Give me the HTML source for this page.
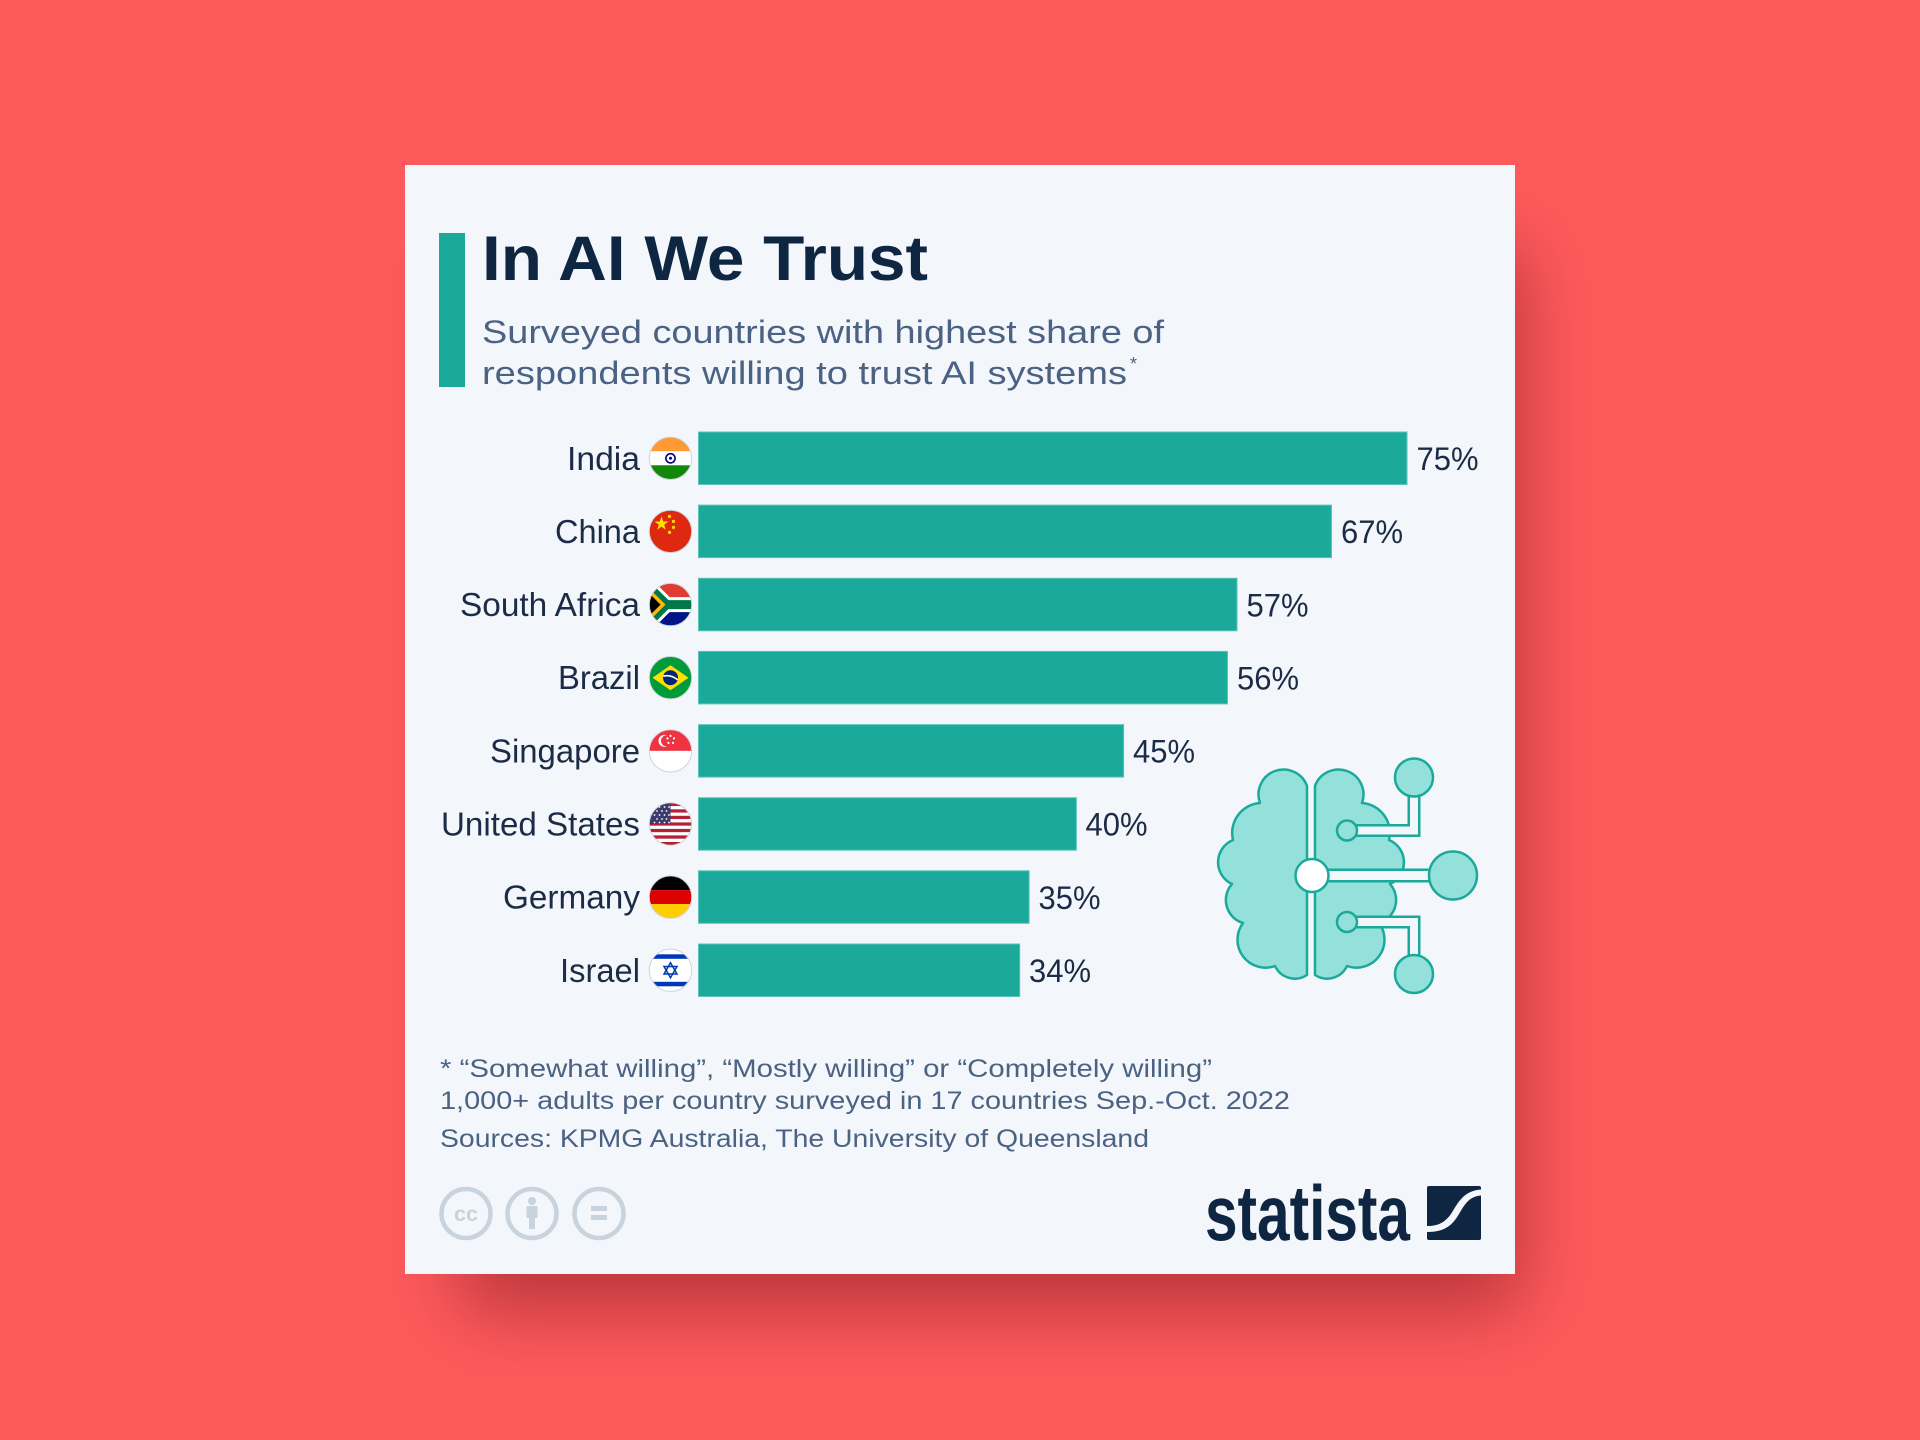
<!DOCTYPE html>
<html>
<head>
<meta charset="utf-8">
<style>
  html, body { margin:0; padding:0; width:1920px; height:1440px; overflow:hidden; background:#fe5a5c; }
  .card { position:absolute; left:405px; top:165px; width:1110px; height:1109px; background:#f3f7fb;
          box-shadow: 30px 60px 70px -25px rgba(90,5,15,0.42); }
  svg { position:absolute; left:0; top:0; }
  text { font-family: "Liberation Sans", Arial, sans-serif; }
</style>
</head>
<body>
<div class="card"></div>
<svg width="1920" height="1440" viewBox="0 0 1920 1440" xmlns="http://www.w3.org/2000/svg">
  <defs>
    <clipPath id="fc"><circle cx="0" cy="0" r="21.2"/></clipPath>
  </defs>

  <!-- Title block -->
  <rect x="439" y="233" width="26" height="154" fill="#1aa99b"/>
  <text x="482" y="280" font-size="63" font-weight="bold" fill="#0f2642" textLength="446" lengthAdjust="spacingAndGlyphs">In AI We Trust</text>
  <text x="482" y="343" font-size="32.5" fill="#4b6283" textLength="682" lengthAdjust="spacingAndGlyphs">Surveyed countries with highest share of</text>
  <text x="482" y="384" font-size="32.5" fill="#4b6283" textLength="645" lengthAdjust="spacingAndGlyphs">respondents willing to trust AI systems</text>
  <text x="1130" y="370" font-size="18" fill="#4b6283">*</text>

  <!-- Bars -->
  <g fill="#1aa99b" stroke="#5cc4b9" stroke-width="1">
    <rect x="698.5" y="432" width="708.5" height="52.5"/>
    <rect x="698.5" y="505.1" width="633" height="52.5"/>
    <rect x="698.5" y="578.3" width="538.5" height="52.5"/>
    <rect x="698.5" y="651.4" width="529" height="52.5"/>
    <rect x="698.5" y="724.6" width="425.1" height="52.5"/>
    <rect x="698.5" y="797.7" width="377.9" height="52.5"/>
    <rect x="698.5" y="870.8" width="330.6" height="52.5"/>
    <rect x="698.5" y="944" width="321.2" height="52.5"/>
  </g>

  <!-- Country labels -->
  <g font-size="33" fill="#1c2c46" text-anchor="end">
    <text x="640" y="469.8" textLength="73" lengthAdjust="spacingAndGlyphs">India</text>
    <text x="640" y="542.9" textLength="85" lengthAdjust="spacingAndGlyphs">China</text>
    <text x="640" y="616.1" textLength="180" lengthAdjust="spacingAndGlyphs">South Africa</text>
    <text x="640" y="689.2" textLength="82" lengthAdjust="spacingAndGlyphs">Brazil</text>
    <text x="640" y="762.4" textLength="150" lengthAdjust="spacingAndGlyphs">Singapore</text>
    <text x="640" y="835.5" textLength="199" lengthAdjust="spacingAndGlyphs">United States</text>
    <text x="640" y="908.6" textLength="137" lengthAdjust="spacingAndGlyphs">Germany</text>
    <text x="640" y="981.8" textLength="80" lengthAdjust="spacingAndGlyphs">Israel</text>
  </g>

  <!-- Values -->
  <g font-size="32" fill="#1c2c46">
    <text x="1416.5" y="470" textLength="62" lengthAdjust="spacingAndGlyphs">75%</text>
    <text x="1341" y="543.1" textLength="62" lengthAdjust="spacingAndGlyphs">67%</text>
    <text x="1246.5" y="616.3" textLength="62" lengthAdjust="spacingAndGlyphs">57%</text>
    <text x="1237" y="689.4" textLength="62" lengthAdjust="spacingAndGlyphs">56%</text>
    <text x="1133" y="762.6" textLength="62" lengthAdjust="spacingAndGlyphs">45%</text>
    <text x="1085.5" y="835.7" textLength="62" lengthAdjust="spacingAndGlyphs">40%</text>
    <text x="1038.5" y="908.8" textLength="62" lengthAdjust="spacingAndGlyphs">35%</text>
    <text x="1029" y="982" textLength="62" lengthAdjust="spacingAndGlyphs">34%</text>
  </g>

  <!-- Flags -->
  <!-- India -->
  <g transform="translate(670.5,458.3)">
    <g clip-path="url(#fc)">
      <rect x="-22" y="-22" width="44" height="15" fill="#ff9933"/>
      <rect x="-22" y="-7" width="44" height="14" fill="#ffffff"/>
      <rect x="-22" y="7" width="44" height="15" fill="#138808"/>
      <circle r="4.6" fill="#fff" stroke="#000080" stroke-width="1.6"/>
      <circle r="1.5" fill="#000080"/>
    </g>
    <circle r="21.2" fill="none" stroke="#cfd4da" stroke-width="1"/>
  </g>
  <!-- China -->
  <g transform="translate(670.5,531.4)">
    <g clip-path="url(#fc)">
      <rect x="-22" y="-22" width="44" height="44" fill="#de2910"/>
      <polygon points="-9,-15 -7.3,-9.9 -2,-9.9 -6.3,-6.8 -4.7,-1.7 -9,-4.8 -13.3,-1.7 -11.7,-6.8 -16,-9.9 -10.7,-9.9" fill="#ffde00"/>
      <circle cx="-1" cy="-15" r="1.6" fill="#ffde00"/>
      <circle cx="3" cy="-10" r="1.6" fill="#ffde00"/>
      <circle cx="3" cy="-4" r="1.6" fill="#ffde00"/>
      <circle cx="-1" cy="1" r="1.6" fill="#ffde00"/>
    </g>
    <circle r="21.2" fill="none" stroke="#cfd4da" stroke-width="1"/>
  </g>
  <!-- South Africa -->
  <g transform="translate(670.5,604.6)">
    <g clip-path="url(#fc)">
      <rect x="-22" y="-22" width="44" height="22" fill="#e03c31"/>
      <rect x="-22" y="0" width="44" height="22" fill="#001489"/>
      <path d="M-30,-26 L-4,0 L25,0 M-30,26 L-4,0" stroke="#ffffff" stroke-width="15" fill="none"/>
      <path d="M-30,-26 L-4,0 L25,0 M-30,26 L-4,0" stroke="#007749" stroke-width="9" fill="none"/>
      <polygon points="-22,-17 -5,0 -22,17" fill="#ffb612"/>
      <polygon points="-22,-12 -10,0 -22,12" fill="#000000"/>
    </g>
    <circle r="21.2" fill="none" stroke="#cfd4da" stroke-width="1"/>
  </g>
  <!-- Brazil -->
  <g transform="translate(670.5,677.7)">
    <g clip-path="url(#fc)">
      <rect x="-22" y="-22" width="44" height="44" fill="#009c3b"/>
      <polygon points="-18,0 0,-12.5 18,0 0,12.5" fill="#ffdf00"/>
      <circle r="7.5" fill="#002776"/>
      <path d="M-7.3,-1.5 Q0,-3.5 7.2,2" stroke="#fff" stroke-width="1.6" fill="none"/>
    </g>
    <circle r="21.2" fill="none" stroke="#cfd4da" stroke-width="1"/>
  </g>
  <!-- Singapore -->
  <g transform="translate(670.5,750.9)">
    <g clip-path="url(#fc)">
      <rect x="-22" y="-22" width="44" height="22" fill="#ef3340"/>
      <rect x="-22" y="0" width="44" height="22" fill="#ffffff"/>
      <circle cx="-6" cy="-10" r="6" fill="#fff"/>
      <circle cx="-4" cy="-10" r="5.5" fill="#ef3340"/>
      <circle cx="0" cy="-15" r="1.1" fill="#fff"/>
      <circle cx="3.5" cy="-12.5" r="1.1" fill="#fff"/>
      <circle cx="2.5" cy="-8" r="1.1" fill="#fff"/>
      <circle cx="-2" cy="-8" r="1.1" fill="#fff"/>
      <circle cx="-3" cy="-12.5" r="1.1" fill="#fff"/>
    </g>
    <circle r="21.2" fill="none" stroke="#cfd4da" stroke-width="1"/>
  </g>
  <!-- United States -->
  <g transform="translate(670.5,824)">
    <g clip-path="url(#fc)">
      <rect x="-22" y="-22" width="44" height="44" fill="#ffffff"/>
      <g fill="#b22234">
        <rect x="-22" y="-21.2" width="44" height="3.26"/>
        <rect x="-22" y="-14.7" width="44" height="3.26"/>
        <rect x="-22" y="-8.2" width="44" height="3.26"/>
        <rect x="-22" y="-1.6" width="44" height="3.26"/>
        <rect x="-22" y="4.9" width="44" height="3.26"/>
        <rect x="-22" y="11.4" width="44" height="3.26"/>
        <rect x="-22" y="18" width="44" height="3.26"/>
      </g>
      <rect x="-22" y="-22" width="22" height="22" fill="#3c3b6e"/>
      <g fill="#fff">
        <circle cx="-16" cy="-17" r="0.9"/><circle cx="-11" cy="-17" r="0.9"/><circle cx="-6" cy="-17" r="0.9"/><circle cx="-1.5" cy="-17" r="0.9"/>
        <circle cx="-13.5" cy="-13" r="0.9"/><circle cx="-8.5" cy="-13" r="0.9"/><circle cx="-4" cy="-13" r="0.9"/>
        <circle cx="-16" cy="-9" r="0.9"/><circle cx="-11" cy="-9" r="0.9"/><circle cx="-6" cy="-9" r="0.9"/><circle cx="-1.5" cy="-9" r="0.9"/>
        <circle cx="-13.5" cy="-5" r="0.9"/><circle cx="-8.5" cy="-5" r="0.9"/><circle cx="-4" cy="-5" r="0.9"/>
        <circle cx="-16" cy="-1.5" r="0.9"/><circle cx="-11" cy="-1.5" r="0.9"/><circle cx="-6" cy="-1.5" r="0.9"/><circle cx="-1.5" cy="-1.5" r="0.9"/>
      </g>
    </g>
    <circle r="21.2" fill="none" stroke="#cfd4da" stroke-width="1"/>
  </g>
  <!-- Germany -->
  <g transform="translate(670.5,897.1)">
    <g clip-path="url(#fc)">
      <rect x="-22" y="-22" width="44" height="15" fill="#000000"/>
      <rect x="-22" y="-7" width="44" height="14" fill="#dd0000"/>
      <rect x="-22" y="7" width="44" height="15" fill="#ffce00"/>
    </g>
    <circle r="21.2" fill="none" stroke="#cfd4da" stroke-width="1"/>
  </g>
  <!-- Israel -->
  <g transform="translate(670.5,970.3)">
    <g clip-path="url(#fc)">
      <rect x="-22" y="-22" width="44" height="44" fill="#ffffff"/>
      <rect x="-22" y="-16" width="44" height="4.5" fill="#0038b8"/>
      <rect x="-22" y="11.5" width="44" height="4.5" fill="#0038b8"/>
      <polygon points="0,-7.5 6.5,3.75 -6.5,3.75" fill="none" stroke="#0038b8" stroke-width="1.5"/>
      <polygon points="0,7.5 6.5,-3.75 -6.5,-3.75" fill="none" stroke="#0038b8" stroke-width="1.5"/>
    </g>
    <circle r="21.2" fill="none" stroke="#cfd4da" stroke-width="1"/>
  </g>

  <!-- Brain icon -->
  <g stroke="#1aa99b" stroke-width="2.5" fill="#94e1dc" stroke-linejoin="round">
    <path d="M1307,975 L1307,786 A24,24 0 0 0 1260,803 A30,30 0 0 0 1233,840 A24,24 0 0 0 1232,884 A24,24 0 0 0 1243,923 A28,28 0 0 0 1275,966 A22,22 0 0 0 1307,975 Z"/>
    <path transform="translate(2622,0) scale(-1,1)" d="M1307,975 L1307,786 A24,24 0 0 0 1260,803 A30,30 0 0 0 1233,840 A24,24 0 0 0 1232,884 A24,24 0 0 0 1243,923 A28,28 0 0 0 1275,966 A22,22 0 0 0 1307,975 Z"/>
  </g>
  <!-- pipes -->
  <g fill="none" stroke-linejoin="miter" stroke-linecap="butt">
    <path d="M1347,830.5 H1414 V778" stroke="#1aa99b" stroke-width="13"/>
    <path d="M1347,830.5 H1414 V778" stroke="#f3f7fb" stroke-width="8"/>
    <path d="M1347,922 H1414 V974" stroke="#1aa99b" stroke-width="13"/>
    <path d="M1347,922 H1414 V974" stroke="#f3f7fb" stroke-width="8"/>
    <path d="M1312,875.5 H1453" stroke="#1aa99b" stroke-width="14"/>
    <path d="M1312,875.5 H1453" stroke="#f3f7fb" stroke-width="9"/>
  </g>
  <g stroke="#1aa99b" stroke-width="2.5" fill="#94e1dc">
    <circle cx="1414" cy="777.5" r="19"/>
    <circle cx="1414" cy="974" r="19"/>
    <circle cx="1453" cy="875.5" r="24"/>
    <circle cx="1347" cy="830.5" r="10"/>
    <circle cx="1347" cy="922" r="10"/>
    <circle cx="1312" cy="875.5" r="16.5" fill="#ffffff"/>
  </g>

  <!-- Footnotes -->
  <g font-size="25" fill="#4b6283">
    <text x="440" y="1077" textLength="772" lengthAdjust="spacingAndGlyphs">* “Somewhat willing”, “Mostly willing” or “Completely willing”</text>
    <text x="440" y="1109" textLength="850" lengthAdjust="spacingAndGlyphs">1,000+ adults per country surveyed in 17 countries Sep.-Oct. 2022</text>
    <text x="440" y="1147" textLength="709" lengthAdjust="spacingAndGlyphs">Sources: KPMG Australia, The University of Queensland</text>
  </g>

  <!-- CC icons -->
  <g stroke="#c8d3dd" stroke-width="4.5" fill="none">
    <circle cx="466" cy="1213.5" r="24.5"/>
    <circle cx="532" cy="1213.5" r="24.5"/>
    <circle cx="599" cy="1213.5" r="24.5"/>
  </g>
  <text x="466" y="1221" font-size="21" font-weight="bold" fill="#c8d3dd" text-anchor="middle" textLength="24" lengthAdjust="spacingAndGlyphs">cc</text>
  <g fill="#c8d3dd">
    <circle cx="532" cy="1201" r="4"/>
    <rect x="526.5" y="1206" width="11" height="12" rx="1"/>
    <rect x="529" y="1216" width="6" height="13"/>
    <rect x="591" y="1206" width="16" height="5"/>
    <rect x="591" y="1215" width="16" height="5"/>
  </g>

  <!-- statista logo -->
  <text x="1205" y="1240" font-size="78" font-weight="bold" fill="#0f2642" textLength="205" lengthAdjust="spacingAndGlyphs" style="font-family:'Liberation Sans Narrow','Liberation Sans',Arial,sans-serif">statista</text>
  <g transform="translate(1427,1186)">
    <rect x="0" y="0" width="54" height="54" rx="2" fill="#0f2642"/>
    <path d="M0,40 C12,40 18,36 24,28 C31,17 36,5 54,3.5 L54,9.5 C42,10.5 38,18 32,28 C25,40 17,46 0,46 Z" fill="#f3f7fb"/>
  </g>
</svg>
</body>
</html>
